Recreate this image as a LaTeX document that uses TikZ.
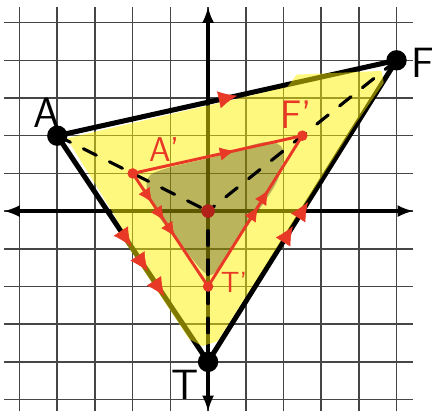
\documentclass[tikz,border=0pt]{standalone}
\usepackage{xcolor}
\usetikzlibrary{arrows, arrows.meta}
\usetikzlibrary{decorations.markings, math}
\definecolor{penred}{RGB}{232,56,38}
\definecolor{dotred}{RGB}{178,34,24}
\definecolor{gridgray}{RGB}{70,70,70}
\tikzset{
  tick/.style={postaction={decorate,decoration={markings,
    mark=at position #1 with {\arrow{Latex[length=14pt,width=13pt]}}}}},
  smalltick/.style={postaction={decorate,decoration={markings,
    mark=at position #1 with {\arrow{Latex[length=11pt,width=10pt]}}}}},
  handtext/.style={font=\sffamily\fontsize{32}{32}\selectfont},
  redtext/.style={text=penred, font=\sffamily\fontsize{#1}{#1}\selectfont}
}

\begin{document}
\begin{tikzpicture}[scale=1]
\tikzmath{
\k=0.5;
\Ax=-4; \Ay=2;
\Fx=5;  \Fy=4;
\Tx=0;  \Ty=-4;
}
\useasboundingbox (-5.52,-5.31) rectangle (6.02,5.60);

\coordinate (O) at (0,0);
\coordinate (A) at (\Ax,\Ay);
\coordinate (F) at (\Fx,\Fy);
\coordinate (T) at (\Tx,\Ty);
\coordinate (Ap) at (\k*\Ax,\k*\Ay);
\coordinate (Fp) at (\k*\Fx,\k*\Fy);
\coordinate (Tp) at (\k*\Tx,\k*\Ty);

 %grid:
 \foreach \i in {-5,...,5}{
  \draw[color=gridgray, line width=1.2pt] (\i,-5.31) -- (\i,5.41);
  \draw[color=gridgray, line width=1.2pt] (-5.41,\i) -- (5.44,\i);
 }

 %axes:
 \draw[latex-latex, line width=3pt] (-5.41,0) -- (5.44,0);
 \draw[latex-latex, line width=3pt] (0,-5.31) -- (0,5.41);

 %big triangle
 \draw[line width=3.8pt, line join=round] (A) -- (F) -- (T) -- cycle;

 %highlighter
 \fill[yellow, opacity=0.5] (-3.75,1.93) -- (2.1,3.29) -- (2.35,3.62) -- (4.6,3.72)
   -- (4.66,3.4) -- (3.9,2.3) -- (0.25,-3.45) -- (-0.15,-3.58) -- (-0.5,-3.4)
   -- (-2.38,-0.55) -- (-2.2,-0.6) -- (-2.55,0) -- cycle;
 \fill[black, opacity=0.27] plot[smooth cycle] coordinates {(-1.54,0.95) (0.2,1.45)
   (1.51,1.83) (1.99,1.62) (1.78,0.69) (0.58,-1.03) (0.05,-1.7) (-0.61,-1.03) (-1.41,0.03)};

 %dashed lines
 \draw[dashed, dash pattern=on 11pt off 11pt, line width=2.4pt, line cap=round] (A) -- (O);
 \draw[dashed, dash pattern=on 11pt off 11pt, line width=2.4pt, line cap=round] (F) -- (O);
 \draw[dashed, dash pattern=on 11pt off 11pt, line width=2.4pt, line cap=round] (T) -- (O);

 %marks on big triangle
 \path[penred, tick=0.53] (A) -- (F);
 \path[penred, tick=0.45, tick=0.53] (T) -- (F);
 \path[penred, tick=0.49, tick=0.6, tick=0.71] (A) -- (T);

 %small triangle
 \draw[penred, line width=2.2pt, line join=round] (Ap) -- (Fp) -- (Tp) -- cycle;
 \path[penred, smalltick=0.6] (Ap) -- (Fp);
 \path[penred, smalltick=0.53, smalltick=0.64] (Tp) -- (Fp);
 \path[penred, smalltick=0.26, smalltick=0.42, smalltick=0.56] (Ap) -- (Tp);

 %points
 \fill (A) circle(0.27);
 \fill (F) circle(0.27);
 \fill (T) circle(0.27);
 \fill[penred] (Ap) circle(0.14);
 \fill[penred] (Fp) circle(0.14);
 \fill[penred] (Tp) circle(0.14);
 \fill[dotred] (O) circle(0.18);

 %labels
 \node[handtext] (lA) at (-4.27,2.6) {A};
 \node[handtext] (lF) at (5.7,3.93) {F};
 \node[handtext] (lT) at (-0.61,-4.62) {T};
 \node[redtext=26] (lAp) at (-1.15,1.62) {A'};
 \node[redtext=30] (lFp) at (2.33,2.55) {F'};
 \node[redtext=22] (lTp) at (0.69,-1.88) {T'};
\end{tikzpicture}
\end{document}
